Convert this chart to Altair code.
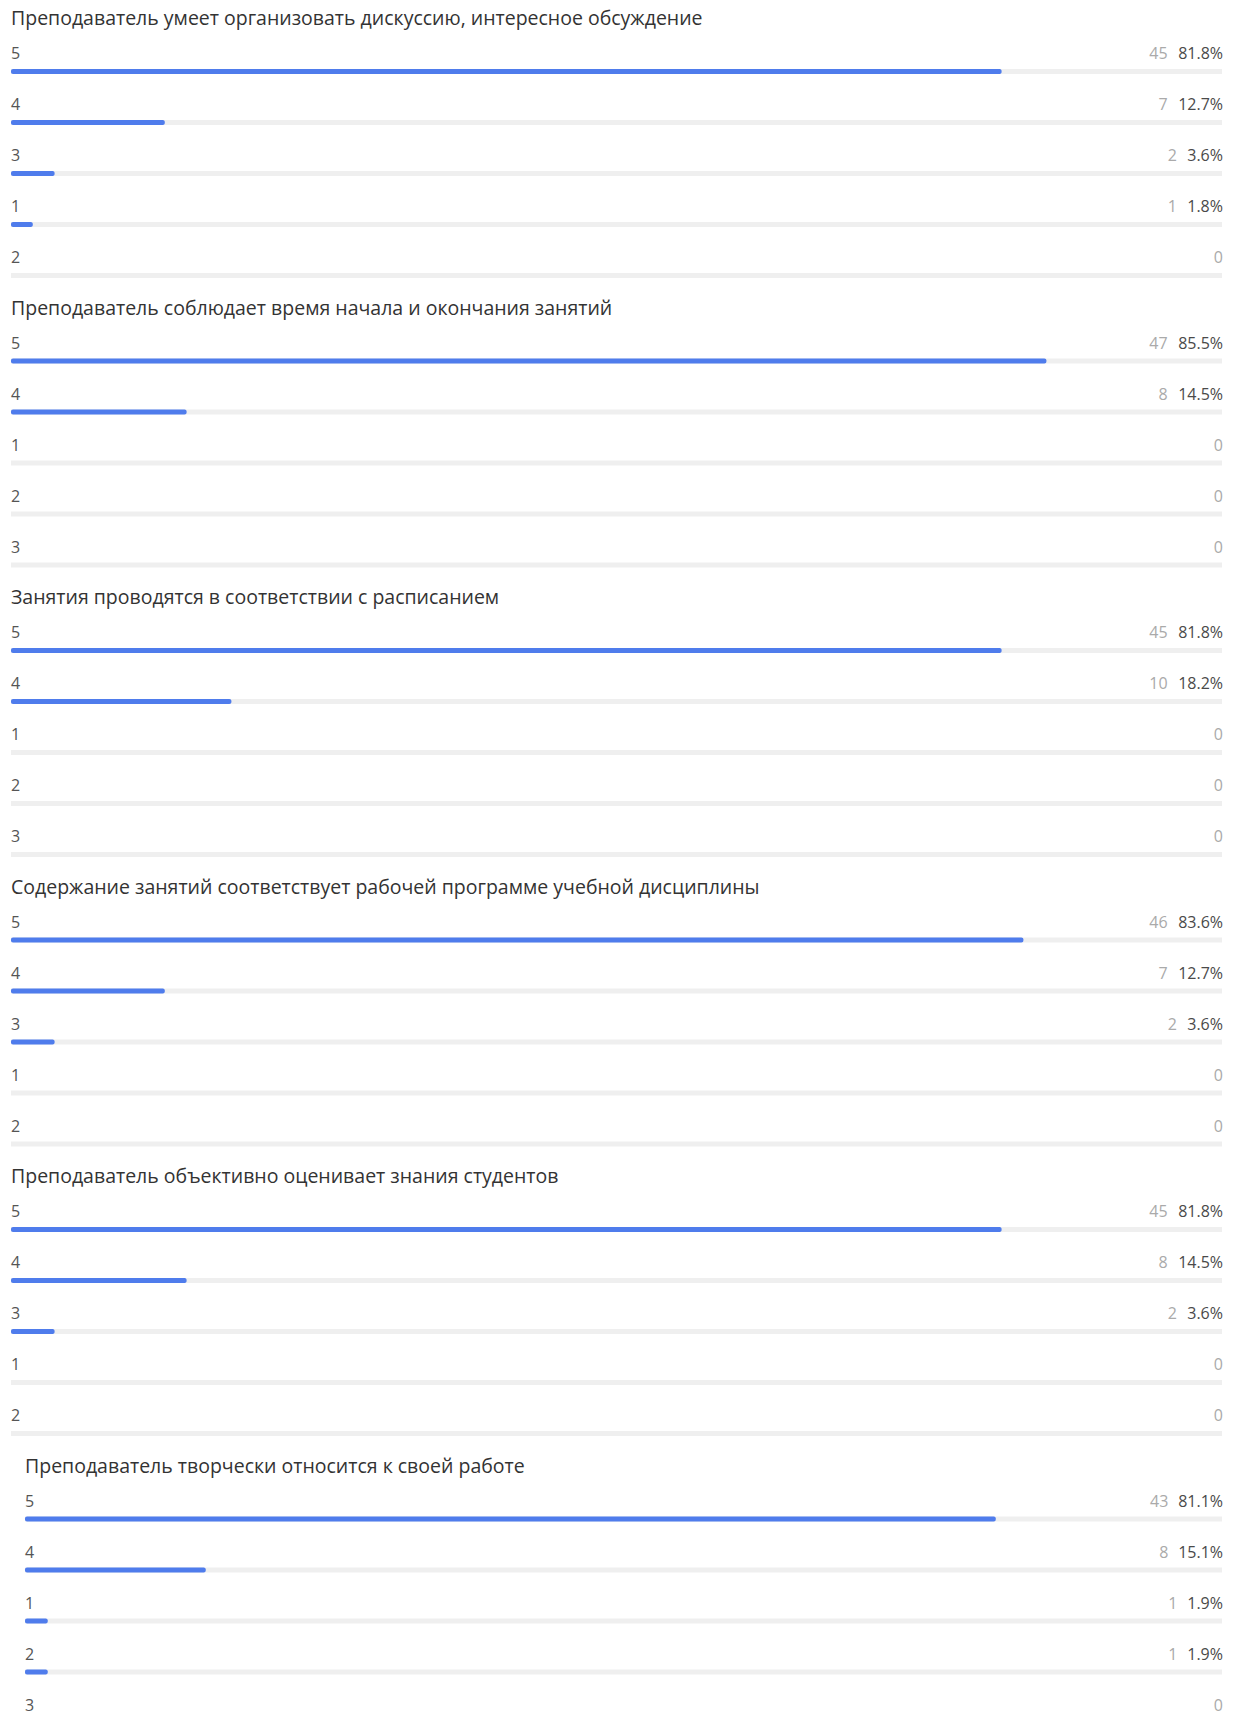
import altair as alt
import pandas as pd

titles = [
    "Преподаватель умеет организовать дискуссию, интересное обсуждение",
    "Преподаватель соблюдает время начала и окончания занятий",
    "Занятия проводятся в соответствии с расписанием",
    "Содержание занятий соответствует рабочей программе учебной дисциплины",
    "Преподаватель объективно оценивает знания студентов",
    "Преподаватель творчески относится к своей работе",
]
grades = [
    ["5", "4", "3", "1", "2"],
    ["5", "4", "1", "2", "3"],
    ["5", "4", "1", "2", "3"],
    ["5", "4", "3", "1", "2"],
    ["5", "4", "3", "1", "2"],
    ["5", "4", "1", "2", "3"],
]
counts = [
    [45, 7, 2, 1, 0],
    [47, 8, 0, 0, 0],
    [45, 10, 0, 0, 0],
    [46, 7, 2, 0, 0],
    [45, 8, 2, 0, 0],
    [43, 8, 1, 1, 0],
]
percents = [
    [81.8, 12.7, 3.6, 1.8, 0],
    [85.5, 14.5, 0, 0, 0],
    [81.8, 18.2, 0, 0, 0],
    [83.6, 12.7, 3.6, 0, 0],
    [81.8, 14.5, 3.6, 0, 0],
    [81.1, 15.1, 1.9, 1.9, 0],
]
indents = [0, 0, 0, 0, 0, 14]

W = 1211
FONT = "Open Sans"
BLUE = "#4f7cec"
TRACK = "#efefef"


def panel(i):
    df = pd.DataFrame({
        "row": list(range(5)),
        "grade": grades[i],
        "count": counts[i],
        "pct": percents[i],
    })
    base = alt.Chart(df).transform_calculate(
        zero="0",
        one="1",
        share="datum.pct / 100",
        pct_label="datum.count > 0 ? format(datum.pct, '.1f') + '%' : ''",
        cnt_x="datum.count > 0 ? 1 - ((length(format(datum.pct, '.1f')) - 1) * 9.15 + 4.3 + 13.6 + 10) / %d : 1" % W,
    )
    y = alt.Y("row:O", axis=None, scale=alt.Scale(paddingInner=0, paddingOuter=0))
    xs = alt.Scale(domain=[0, 1], range=[indents[i], W])
    track = base.mark_bar(height=5, color=TRACK).encode(
        x=alt.X("zero:Q", scale=xs, axis=None), x2="one:Q", y=y
    )
    bar = base.transform_filter("datum.count > 0").mark_bar(
        height=5, color=BLUE, cornerRadius=2
    ).encode(x=alt.X("zero:Q", scale=xs, axis=None), x2="share:Q", y=y)
    label = base.mark_text(
        align="left", baseline="middle", dy=-17.5, fontSize=16, color="#555555", font=FONT
    ).encode(x=alt.X("zero:Q", scale=xs, axis=None), y=y, text="grade:N")
    pct = base.transform_filter("datum.count > 0").mark_text(
        align="right", baseline="middle", dy=-17.5, dx=1, fontSize=16, color="#4a4a4a", font=FONT
    ).encode(x=alt.X("one:Q", scale=xs, axis=None), y=y, text="pct_label:N")
    cnt = base.mark_text(
        align="right", baseline="middle", dy=-17.5, dx=1, fontSize=16, color="#aaaaaa", font=FONT
    ).encode(x=alt.X("cnt_x:Q", scale=xs, axis=None), y=y, text="count:Q")
    return alt.layer(track, bar, label, pct, cnt).properties(
        width=W,
        height=255,
        title=alt.TitleParams(
            titles[i], anchor="start", fontSize=19.5, font=FONT, fontWeight="normal",
            color="#333333", baseline="bottom", offset=-2.5, dx=indents[i],
        ),
    )


chart = alt.vconcat(*[panel(i) for i in range(6)], spacing=-2.5).properties(
    padding={"left": 3, "top": 1, "right": 5, "bottom": 5},
    background="white",
).configure_view(strokeWidth=0, stroke="transparent")

chart.save("out.html", embed_options={"renderer": "svg", "actions": False})
